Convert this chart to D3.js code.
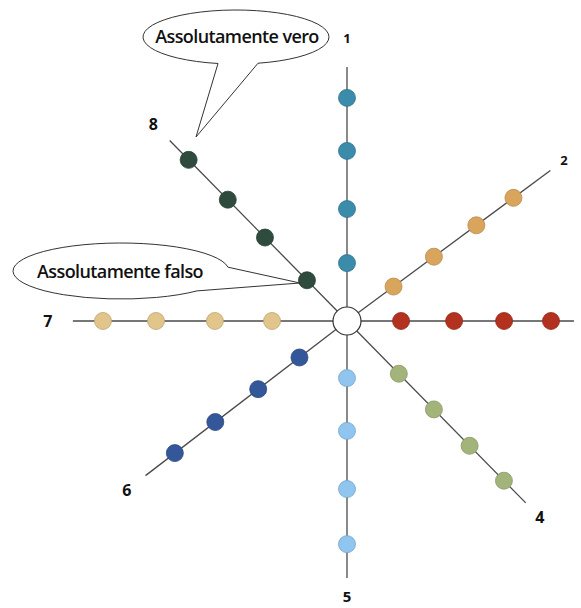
<!DOCTYPE html>
<html>
<head>
<meta charset="utf-8">
<script src="https://cdn.jsdelivr.net/npm/d3@7"></script>
<style>
  body { margin: 0; background: #fff; }
  text { font-family: "Open Sans", sans-serif; fill: #111; }
</style>
</head>
<body>
<div id="chart"></div>
<script>

// axes of the radial scale, going clockwise from the top
var axes       = [ '1', '2', '3', '4', '5', '6', '7', '8' ],
    axisAngle  = [ 90, 36.5, 0, -45.5, -90, -142.5, 180, 134.5 ],   // degrees, counter-clockwise from east
    axisLength = [ 99.6, 99.2, 89.0, 100, 100.8, 99.6, 107.5, 99.2 ],
    axisColor  = [ '#3b8bab', '#d9a55c', '#b3311f', '#a3b47a', '#8fc5ef', '#34579a', '#e2c58a', '#2e4b3e' ];

// position of the 4 dots on each axis (0 = centre, 100 = end of a typical axis)
var dotValues = [
    [ 22.7, 43.9, 66.7, 87.5 ],
    [ 22.7, 42.4, 63.1, 81.2 ],
    [ 21.2, 42.0, 61.6, 80.0 ],
    [ 29.0, 48.6, 68.6, 87.8 ],
    [ 22.4, 43.1, 65.9, 87.5 ],
    [ 23.5, 43.9, 65.1, 85.1 ],
    [ 29.4, 51.8, 74.9, 95.7 ],
    [ 22.4, 45.9, 66.7, 88.6 ]
];

var bubbleText = [ 'Assolutamente vero', 'Assolutamente falso' ];

var width = 581, height = 608,
    cx = 347, cy = 321,
    labelGap = [ 29, 17, 25, 20, 18.5, 23.5, 25, 23.5 ];   // px between axis end and its number

var r = d3.scaleLinear()
    .domain([ 0, 100 ])
    .range([ 0, 255 ]);

var rad = d => d * Math.PI / 180,
    px = (a, v, g) => cx + Math.cos( rad(a) ) * ( r( v ) + ( g || 0 ) ),
    py = (a, v, g) => cy - Math.sin( rad(a) ) * ( r( v ) + ( g || 0 ) );

var data = axes.map( (name, i) => ({
    name: name,
    angle: axisAngle[i],
    len: axisLength[i],
    gap: labelGap[i],
    color: axisColor[i],
    dots: dotValues[i].map( v => ({ v: v, angle: axisAngle[i], color: axisColor[i] }) )
}));

var svg = d3.select('#chart').append('svg')
    .attr( 'width', width )
    .attr( 'height', height );

// axis lines
svg.append('g')
    .selectAll('line').data( data ).enter()
  .append('line')
    .attr( 'x1', cx ).attr( 'y1', cy )
    .attr( 'x2', d => px( d.angle, d.len ) )
    .attr( 'y2', d => py( d.angle, d.len ) )
    .attr( 'stroke', '#4a4a4a' )
    .attr( 'stroke-width', 1.3 );

// axis numbers (the one of axis 3 falls outside the picture, as in the original)
svg.append('g')
    .selectAll('text')
    .data( data.filter( d => px( d.angle, d.len, d.gap ) < width - 8 ) ).enter()
  .append('text')
    .attr( 'x', d => px( d.angle, d.len, d.gap ) )
    .attr( 'y', d => py( d.angle, d.len, d.gap ) )
    .attr( 'dy', '.36em' )
    .attr( 'text-anchor', 'middle' )
    .attr( 'font-weight', 700 )
    .attr( 'font-size', d => ( d.name == '1' || d.name == '2' ) ? 13 : d.name == '5' ? 15 : 16 )
    .text( d => d.name );

// dots
var axisG = svg.append('g')
    .selectAll('g').data( data ).enter()
  .append('g');

axisG.selectAll('circle')
    .data( d => d.dots ).enter()
  .append('circle')
    .attr( 'cx', d => px( d.angle, d.v ) )
    .attr( 'cy', d => py( d.angle, d.v ) )
    .attr( 'r', 8.5 )
    .attr( 'fill', d => d.color )
    .attr( 'stroke', d => d3.color( d.color ).darker( 0.5 ) )
    .attr( 'stroke-width', 0.8 );

// centre
svg.append('circle')
    .attr( 'cx', cx ).attr( 'cy', cy )
    .attr( 'r', 14 )
    .attr( 'fill', '#fff' )
    .attr( 'stroke', '#333' )
    .attr( 'stroke-width', 1.2 );

// speech bubbles : ellipse + tail pointing at a dot
var bubbles = [
    { text: bubbleText[0], ex: 236, ey: 37, rx: 93, ry: 27, a: 258, b: 218, aSide: 1, bSide: 1,
      tip: [ 196, 137 ], tx: 237, ty: 43 },
    { text: bubbleText[1], ex: 121, ey: 271, rx: 108, ry: 28, a: 228, b: 197, aSide: -1, bSide: 1,
      tip: [ 300, 283 ], tx: 120, ty: 278 }
];

var onEllipse = (d, x, side) => [ x, d.ey + side * d.ry * Math.sqrt( 1 - Math.pow( (x - d.ex) / d.rx, 2 ) ) ];

var bubble = svg.append('g')
    .selectAll('g').data( bubbles ).enter()
  .append('g');

bubble.append('path')
    .attr( 'd', d => {
      var A = onEllipse( d, d.a, d.aSide ),
          B = onEllipse( d, d.b, d.bSide );
      return `M${A}A${d.rx},${d.ry} 0 1 0 ${B}L${d.tip}Z`;
    })
    .attr( 'fill', '#fff' )
    .attr( 'stroke', '#333' )
    .attr( 'stroke-width', 1 );

bubble.append('text')
    .attr( 'x', d => d.tx )
    .attr( 'y', d => d.ty )
    .attr( 'text-anchor', 'middle' )
    .attr( 'font-size', 18 )
    .attr( 'font-weight', 600 )
    .attr( 'letter-spacing', -0.6 )
    .text( d => d.text );

</script>
</body>
</html>
